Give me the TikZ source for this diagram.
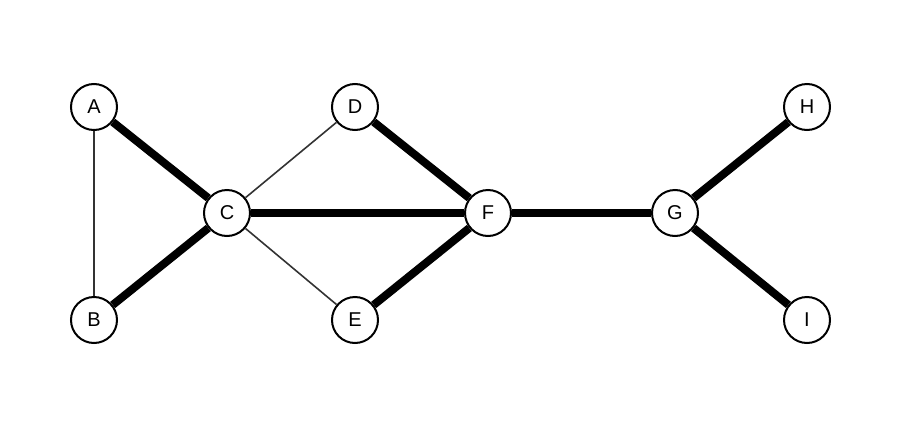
\documentclass[tikz,border=0pt]{standalone}
\usepackage{fontspec}
\setmainfont{Liberation Sans}
\begin{document}
\begin{tikzpicture}[x=1pt,y=-1pt,
  vtx/.style={circle,draw=black,line width=2pt,fill=white,minimum size=46pt,inner sep=0pt,font=\fontsize{20}{22}\selectfont},
  heavy/.style={line width=8pt},
  light/.style={line width=1.6pt, draw=black!80}]
\useasboundingbox (0,0) rectangle (906,426);
\node[vtx] (A) at (94,107) {A};
\node[vtx] (B) at (94,320) {B};
\node[vtx] (C) at (227,213) {C};
\node[vtx] (D) at (355,107) {D};
\node[vtx] (E) at (355,320) {E};
\node[vtx] (F) at (488,213) {F};
\node[vtx] (G) at (675,213) {G};
\node[vtx] (H) at (807,107) {H};
\node[vtx] (I) at (807,320) {I};
\begin{scope}[on background layer/.try]
\end{scope}
\draw[light] (A) -- (B);
\draw[light] (C) -- (D);
\draw[light] (C) -- (E);
\draw[heavy] (A) -- (C);
\draw[heavy] (B) -- (C);
\draw[heavy] (C) -- (F);
\draw[heavy] (D) -- (F);
\draw[heavy] (E) -- (F);
\draw[heavy] (F) -- (G);
\draw[heavy] (G) -- (H);
\draw[heavy] (G) -- (I);
\end{tikzpicture}
\end{document}
